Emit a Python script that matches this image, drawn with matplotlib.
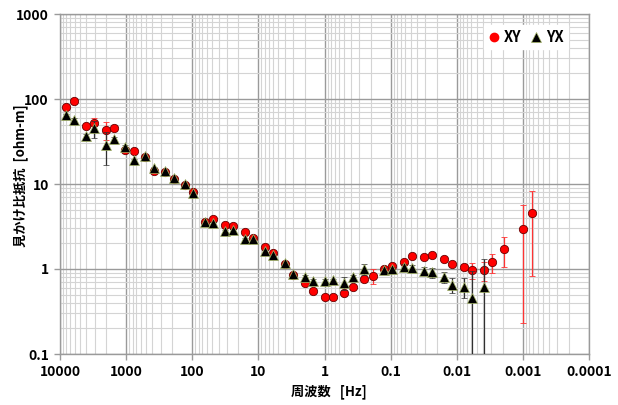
import numpy as np
import matplotlib
matplotlib.use("Agg")
import matplotlib.pyplot as plt
from matplotlib.ticker import FixedLocator, LogLocator, NullFormatter
from matplotlib.lines import Line2D

plt.rcParams['font.family'] = ['Noto Sans CJK JP', 'DejaVu Sans']

freq = [8192, 6144, 4096, 3072, 2048, 1536, 1024, 768, 512, 384, 256, 192, 128, 96,
        64, 48, 32, 24, 16, 12, 8, 6, 4, 3, 2, 1.5, 1, 0.75, 0.5, 0.375, 0.25, 0.1875,
        0.125, 0.09375, 0.0625, 0.046875, 0.03125, 0.0234, 0.0156, 0.0117, 0.0078,
        0.00586, 0.0039, 0.0029, 0.00195, 0.00098, 0.00073]

rho_xy = [81, 95, 48, 52, 43, 45, 25, 24.4, 21, 14.4, 13.8, 11.5, 9.8, 8.1,
          3.6, 3.85, 3.3, 3.2, 2.75, 2.33, 1.8, 1.56, 1.14, 0.85, 0.68, 0.55, 0.47, 0.47,
          0.52, 0.62, 0.76, 0.83, 0.99, 1.09, 1.22, 1.43, 1.37, 1.46, 1.31, 1.14, 1.05,
          0.97, 0.97, 1.2, 1.72, 2.93, 4.52]
err_xy = [3, 3, 3, 8, 10, 3, 1, 1, 0.8, 0.5, 0.4, 0.3, 0.3, 0.2,
          0.1, 0.1, 0.08, 0.08, 0.06, 0.05, 0.04, 0.04, 0.03, 0.03, 0.02, 0.02, 0.02, 0.02,
          0.03, 0.03, 0.04, 0.16, 0.04, 0.05, 0.05, 0.06, 0.06, 0.06, 0.06, 0.06, 0.08,
          0.2, 0.25, 0.3, 0.65, 2.7, 3.7]

rho_yx = [65, 57, 37, 45, 28.8, 33.6, 27.5, 19.1, 21.3, 15.3, 14.4, 11.7, 10, 7.9,
          3.6, 3.45, 2.83, 2.88, 2.23, 2.26, 1.64, 1.46, 1.17, 0.87, 0.81, 0.73, 0.73, 0.74,
          0.69, 0.80, 0.99, np.nan, 0.97, 0.99, 1.05, 1.02, 0.95, 0.91, 0.81, 0.65, 0.62,
          0.46, 0.62, np.nan, np.nan, np.nan, np.nan]
err_yx = [2, 2, 2, 10, 12, 2, 1, 0.8, 0.6, 0.5, 0.4, 0.3, 0.3, 0.2,
          0.1, 0.1, 0.08, 0.08, 0.06, 0.05, 0.04, 0.04, 0.03, 0.03, 0.03, 0.03, 0.03, 0.03,
          0.12, 0.04, 0.15, np.nan, 0.05, 0.06, 0.1, 0.1, 0.1, 0.12, 0.12, 0.13, 0.17,
          0.5, 0.7, np.nan, np.nan, np.nan, np.nan]

x_ticks = [10000, 1000, 100, 10, 1, 0.1, 0.01, 0.001, 0.0001]
x_labels = ["10000", "1000", "100", "10", "1", "0.1", "0.01", "0.001", "0.0001"]
y_ticks = [0.1, 1, 10, 100, 1000]
y_labels = ["0.1", "1", "10", "100", "1000"]

fig = plt.figure(figsize=(6.18, 4.05), dpi=100)
ax = fig.add_axes([60/618, 1-354/405, 529/618, 340/405])
ax.set_xscale('log')
ax.set_yscale('log')
ax.set_xlim(1e4, 1e-4)
ax.set_ylim(0.1, 1000)

ax.xaxis.set_major_locator(FixedLocator(x_ticks))
ax.set_xticklabels(x_labels)
ax.yaxis.set_major_locator(FixedLocator(y_ticks))
ax.set_yticklabels(y_labels)
ax.xaxis.set_minor_locator(LogLocator(base=10, subs=np.arange(2, 10), numticks=50))
ax.yaxis.set_minor_locator(LogLocator(base=10, subs=np.arange(2, 10), numticks=50))
ax.xaxis.set_minor_formatter(NullFormatter())
ax.yaxis.set_minor_formatter(NullFormatter())

ax.grid(which='minor', color='#d4d4d4', lw=0.8, zorder=0)
ax.grid(which='major', color='#9a9a9a', lw=1.0, zorder=0)
ax.set_axisbelow(True)
for s in ax.spines.values():
    s.set_color('#9a9a9a')
    s.set_linewidth(1.0)
ax.tick_params(which='major', length=4, color='#9a9a9a', width=1.0, labelsize=10, pad=4)
ax.tick_params(which='minor', length=0)
for lab in ax.get_xticklabels() + ax.get_yticklabels():
    lab.set_fontweight('bold')

ax.errorbar(freq, rho_xy, yerr=err_xy, fmt='o', color='#ff0000', ms=6,
            mec='#6a0000', mew=0.6, ecolor='#ff3333', elinewidth=0.9, capsize=2,
            capthick=0.9, zorder=3)
ax.errorbar(freq, rho_yx, yerr=err_yx, fmt='^', color='#000000', ms=6.5,
            mec='#a8b868', mew=0.5, ecolor='#303030', elinewidth=0.9, capsize=2,
            capthick=0.9, zorder=4)

handles = [Line2D([], [], ls='none', marker='o', color='#ff0000', ms=6, mec='#ff0000'),
           Line2D([], [], ls='none', marker='^', color='#000000', ms=6.5, mec='#a8b868', mew=0.5)]
leg = ax.legend(handles, ['XY', 'YX'], ncol=2, loc='upper right',
                bbox_to_anchor=(0.975, 0.99), frameon=True, fancybox=False,
                edgecolor='white', framealpha=1.0, handlelength=0.8,
                handletextpad=0.3, columnspacing=0.6, borderpad=0.3,
                prop={'weight': 'bold', 'size': 10.5})

ax.set_xlabel('周波数   [Hz]', fontsize=9.5, fontweight='bold')
ax.xaxis.set_label_coords(0.508, -0.088)
ax.set_ylabel('見かけ比抵抗  [ohm-m]', fontsize=9.5, fontweight='bold')
ax.yaxis.set_label_coords(-0.06, 0.524)

fig.savefig('out.png', dpi=100)
